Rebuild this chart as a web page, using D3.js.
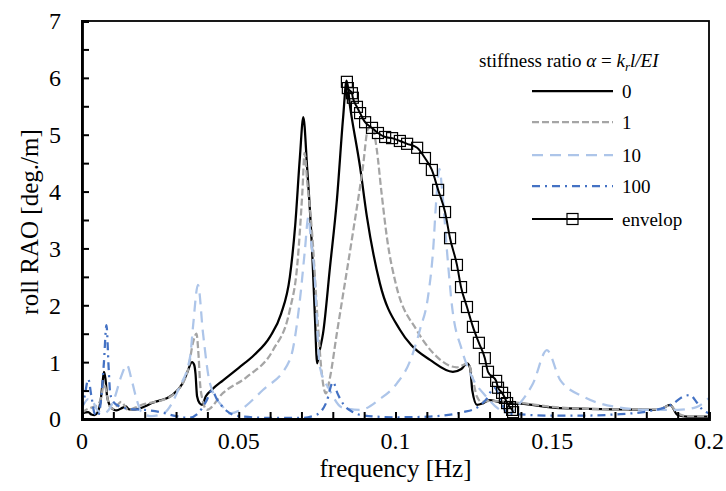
<!DOCTYPE html>
<html>
<head>
<meta charset="utf-8">
<script src="https://cdn.jsdelivr.net/npm/d3@7"></script>
<style>
  body { margin: 0; background: #fff; }
  text { font-family: "Liberation Serif", "Times New Roman", serif; fill: #000; }
</style>
</head>
<body>
<div id="container"></div>
<script>

// stiffness ratio 0
var freq0 = [0, 0.002, 0.003, 0.004, 0.005, 0.006, 0.0065, 0.007, 0.0075, 0.008, 0.009, 0.010, 0.011, 0.013, 0.014, 0.015, 0.017, 0.020, 0.0223, 0.0287, 0.032, 0.0335, 0.0351, 0.0358, 0.0362, 0.0367, 0.0375, 0.0383, 0.0395, 0.0415, 0.045, 0.050, 0.055, 0.060, 0.0635, 0.0663, 0.068, 0.0695, 0.0706, 0.0718, 0.0734, 0.0743, 0.0750, 0.0758, 0.0769, 0.0791, 0.0813, 0.0833, 0.0844, 0.0855, 0.0887, 0.0909, 0.095, 0.1014, 0.105, 0.111, 0.1183, 0.121, 0.1228, 0.1238, 0.1245, 0.126, 0.128, 0.130, 0.133, 0.140, 0.1525, 0.170, 0.184, 0.1876, 0.190, 0.193, 0.200];
var rao0  = [0.10, 0.12, 0.08, 0.07, 0.12, 0.35, 0.60, 0.83, 0.70, 0.40, 0.22, 0.17, 0.15, 0.20, 0.22, 0.17, 0.17, 0.22, 0.28, 0.42, 0.62, 0.81, 1.00, 0.95, 0.80, 0.40, 0.28, 0.25, 0.40, 0.52, 0.68, 0.90, 1.13, 1.45, 1.85, 2.50, 3.40, 4.60, 5.31, 4.43, 2.97, 1.79, 0.98, 1.20, 1.51, 2.67, 3.85, 5.31, 5.95, 5.50, 4.43, 3.55, 2.39, 1.57, 1.30, 1.04, 0.83, 0.88, 0.98, 0.90, 0.50, 0.25, 0.28, 0.33, 0.30, 0.27, 0.19, 0.17, 0.16, 0.25, 0.07, 0.04, 0.04];

// stiffness ratio 1
var freq1 = [0, 0.001, 0.003, 0.005, 0.006, 0.007, 0.0075, 0.008, 0.009, 0.010, 0.0125, 0.0147, 0.017, 0.0191, 0.0255, 0.0297, 0.0338, 0.0354, 0.0365, 0.0372, 0.0377, 0.0385, 0.0398, 0.045, 0.0526, 0.0609, 0.0663, 0.0686, 0.0703, 0.0710, 0.0718, 0.0734, 0.0753, 0.0766, 0.0778, 0.079, 0.0813, 0.0864, 0.0896, 0.0912, 0.0925, 0.094, 0.0955, 0.0975, 0.100, 0.1069, 0.112, 0.1196, 0.1232, 0.1245, 0.126, 0.1275, 0.130, 0.140, 0.1525, 0.170, 0.184, 0.1876, 0.190, 0.193, 0.200];
var rao1  = [0.10, 0.15, 0.20, 0.25, 0.35, 0.60, 0.55, 0.40, 0.20, 0.18, 0.30, 0.16, 0.20, 0.25, 0.33, 0.46, 0.86, 1.34, 1.50, 1.10, 0.60, 0.33, 0.16, 0.46, 0.74, 1.21, 1.92, 2.67, 4.00, 4.68, 4.20, 3.27, 1.62, 0.74, 0.45, 0.70, 1.51, 3.27, 4.43, 5.10, 5.15, 4.75, 4.00, 3.10, 2.40, 1.55, 1.16, 0.91, 0.98, 0.74, 0.39, 0.30, 0.32, 0.28, 0.20, 0.17, 0.17, 0.24, 0.10, 0.05, 0.05];

// stiffness ratio 10
var freq10 = [0, 0.002, 0.0035, 0.005, 0.007, 0.009, 0.0105, 0.0125, 0.0143, 0.016, 0.0175, 0.019, 0.022, 0.026, 0.031, 0.0345, 0.0354, 0.037, 0.0386, 0.0408, 0.045, 0.0472, 0.0577, 0.0663, 0.0695, 0.0711, 0.0722, 0.073, 0.074, 0.0759, 0.079, 0.083, 0.0887, 0.095, 0.1005, 0.1045, 0.1078, 0.1105, 0.112, 0.113, 0.114, 0.115, 0.1164, 0.118, 0.1212, 0.1244, 0.129, 0.1333, 0.136, 0.140, 0.1439, 0.1483, 0.1525, 0.160, 0.1706, 0.181, 0.190, 0.196, 0.200];
var rao10  = [0.20, 0.35, 0.30, 0.15, 0.10, 0.20, 0.39, 0.75, 0.95, 0.65, 0.33, 0.12, 0.05, 0.10, 0.55, 1.10, 1.62, 2.36, 1.51, 0.63, 0.21, 0.10, 0.51, 1.04, 2.09, 2.97, 3.55, 3.15, 2.67, 0.91, 0.51, 0.20, 0.16, 0.35, 0.63, 1.00, 1.57, 2.20, 2.97, 3.85, 4.40, 3.95, 2.97, 2.00, 1.21, 0.74, 0.39, 0.16, 0.10, 0.30, 0.63, 1.21, 0.69, 0.39, 0.21, 0.16, 0.16, 0.21, 0.37];

// stiffness ratio 100
var freq100 = [0, 0.001, 0.002, 0.003, 0.004, 0.005, 0.006, 0.007, 0.0078, 0.0085, 0.009, 0.010, 0.012, 0.015, 0.020, 0.025, 0.030, 0.034, 0.037, 0.0395, 0.0415, 0.043, 0.046, 0.050, 0.060, 0.070, 0.075, 0.078, 0.0801, 0.0815, 0.0835, 0.0865, 0.090, 0.100, 0.110, 0.1215, 0.126, 0.129, 0.1315, 0.1335, 0.1355, 0.140, 0.150, 0.160, 0.170, 0.181, 0.188, 0.192, 0.194, 0.196, 0.198, 0.200];
var rao100  = [0.15, 0.45, 0.70, 0.40, 0.10, 0.05, 0.30, 1.00, 1.65, 0.90, 0.45, 0.30, 0.22, 0.18, 0.16, 0.12, 0.05, 0.02, 0.10, 0.30, 0.50, 0.35, 0.15, 0.05, 0.02, 0.02, 0.08, 0.30, 0.65, 0.45, 0.25, 0.12, 0.06, 0.03, 0.04, 0.12, 0.20, 0.35, 0.55, 0.35, 0.10, 0.08, 0.06, 0.06, 0.08, 0.14, 0.25, 0.40, 0.42, 0.30, 0.16, 0.10];

// envelop
var freqEnv = [0.0845, 0.0848, 0.0861, 0.0864, 0.0877, 0.0887, 0.0903, 0.0925, 0.0944, 0.0967, 0.0989, 0.1014, 0.1037, 0.1069, 0.1094, 0.1116, 0.1136, 0.1158, 0.1174, 0.1196, 0.1209, 0.1228, 0.1247, 0.1266, 0.1285, 0.1295, 0.1321, 0.1327, 0.1340, 0.1349, 0.1356, 0.1365, 0.1372, 0.1375];
var raoEnv  = [5.93, 5.82, 5.73, 5.65, 5.49, 5.38, 5.22, 5.12, 5.03, 4.96, 4.94, 4.89, 4.84, 4.77, 4.59, 4.38, 4.03, 3.64, 3.18, 2.71, 2.32, 1.97, 1.62, 1.34, 1.07, 0.83, 0.67, 0.55, 0.46, 0.37, 0.28, 0.21, 0.16, 0.12];

var xTicks = [0, 0.05, 0.1, 0.15, 0.2];
var yTicks = [0, 1, 2, 3, 4, 5, 6, 7];
var legendLabels = ["0", "1", "10", "100", "envelop"];

var W = 726, H = 491;
var margin = {top: 21, right: 17, bottom: 72, left: 82},
    width = W - margin.left - margin.right,
    height = H - margin.top - margin.bottom;

var svg = d3.select("#container")
  .append("svg")
  .attr("width", W)
  .attr("height", H);

var g = svg.append("g")
  .attr("transform", "translate(" + margin.left + "," + margin.top + ")");

var x = d3.scaleLinear().domain([0, 0.2]).range([0, width]);
var y = d3.scaleLinear().domain([0, 7]).range([height, 0]);

// series styles
var series = [
  {f: freq0,   v: rao0,   color: "#000000", dash: null,       w: 2.25},
  {f: freq1,   v: rao1,   color: "#a5a5a5", dash: "7,3",      w: 2.25},
  {f: freq10,  v: rao10,  color: "#adc5e9", dash: "11,7",     w: 2.25},
  {f: freq100, v: rao100, color: "#4472c4", dash: "8,5,2,5",  w: 2.25},
  {f: freqEnv, v: raoEnv, color: "#000000", dash: null,       w: 2}
];

var line = d3.line()
  .x(function(d) { return x(d[0]); })
  .y(function(d) { return y(d[1]); })
  .curve(d3.curveMonotoneX);

g.append("clipPath").attr("id", "clip")
  .append("rect").attr("width", width).attr("height", height);

var plot = g.append("g").attr("clip-path", "url(#clip)");

series.forEach(function(s) {
  plot.append("path")
    .datum(d3.zip(s.f, s.v))
    .attr("fill", "none")
    .attr("stroke", s.color)
    .attr("stroke-width", s.w)
    .attr("stroke-dasharray", s.dash)
    .attr("d", line);
});

// envelop markers
g.append("g")
  .selectAll("rect")
  .data(d3.zip(freqEnv, raoEnv))
  .enter().append("rect")
  .attr("x", function(d) { return x(d[0]) - 5.5; })
  .attr("y", function(d) { return y(d[1]) - 5.5; })
  .attr("width", 11)
  .attr("height", 11)
  .attr("fill", "none")
  .attr("stroke", "#000")
  .attr("stroke-width", 1.2);

// frame
g.append("rect")
  .attr("width", width)
  .attr("height", height)
  .attr("fill", "none")
  .attr("stroke", "#000")
  .attr("stroke-width", 1.8);

// ticks inside
var xAxis = g.append("g")
  .attr("transform", "translate(0," + height + ")")
  .call(d3.axisBottom(x).ticks(20).tickSize(-7).tickFormat(""));
var yAxis = g.append("g")
  .call(d3.axisLeft(y).ticks(14).tickSize(-7).tickFormat(""));
[xAxis, yAxis].forEach(function(a) {
  a.select(".domain").attr("stroke", "#000").attr("stroke-width", 2.8);
  a.selectAll(".tick line").attr("stroke", "#000").attr("stroke-width", 2);
});

// tick labels
g.append("g")
  .selectAll("text")
  .data(xTicks)
  .enter().append("text")
  .attr("x", function(d) { return x(d); })
  .attr("y", height + 30)
  .attr("text-anchor", "middle")
  .attr("font-size", 24)
  .text(function(d) { return d; });

g.append("g")
  .selectAll("text")
  .data(yTicks)
  .enter().append("text")
  .attr("x", -21)
  .attr("y", function(d) { return y(d); })
  .attr("dy", "0.35em")
  .attr("text-anchor", "end")
  .attr("font-size", 24)
  .text(function(d) { return d; });

// axis titles
svg.append("text")
  .attr("x", margin.left + width / 2)
  .attr("y", 477)
  .attr("text-anchor", "middle")
  .attr("font-size", 25)
  .text("frequency [Hz]");

svg.append("text")
  .attr("transform", "translate(38,222) rotate(-90)")
  .attr("text-anchor", "middle")
  .attr("font-size", 25)
  .text("roll RAO [deg./m]");

// legend
var title = svg.append("text")
  .attr("x", 479)
  .attr("y", 67)
  .attr("font-size", 19);
title.append("tspan").text("stiffness ratio ");
title.append("tspan").attr("font-style", "italic").text("\u03b1");
title.append("tspan").text(" = ");
title.append("tspan").attr("font-style", "italic").text("k");
title.append("tspan").attr("font-style", "italic").attr("font-size", 13).attr("dy", 4).text("r");
title.append("tspan").attr("font-style", "italic").attr("dy", -4).text("l/EI");

var legendY = [91, 122, 155, 186, 219];
var legend = svg.append("g")
  .selectAll("g")
  .data(legendLabels)
  .enter().append("g")
  .attr("transform", function(d, i) { return "translate(0," + legendY[i] + ")"; });

legend.append("line")
  .attr("x1", 532)
  .attr("x2", 613)
  .attr("stroke", function(d, i) { return series[i].color; })
  .attr("stroke-width", function(d, i) { return series[i].w; })
  .attr("stroke-dasharray", function(d, i) { return series[i].dash; });

legend.filter(function(d) { return d == "envelop"; })
  .append("rect")
  .attr("x", 567)
  .attr("y", -5.5)
  .attr("width", 11)
  .attr("height", 11)
  .attr("fill", "none")
  .attr("stroke", "#000")
  .attr("stroke-width", 1.2);

legend.append("text")
  .attr("x", 622)
  .attr("dy", "0.35em")
  .attr("font-size", 19)
  .text(function(d) { return d; });

</script>
</body>
</html>
